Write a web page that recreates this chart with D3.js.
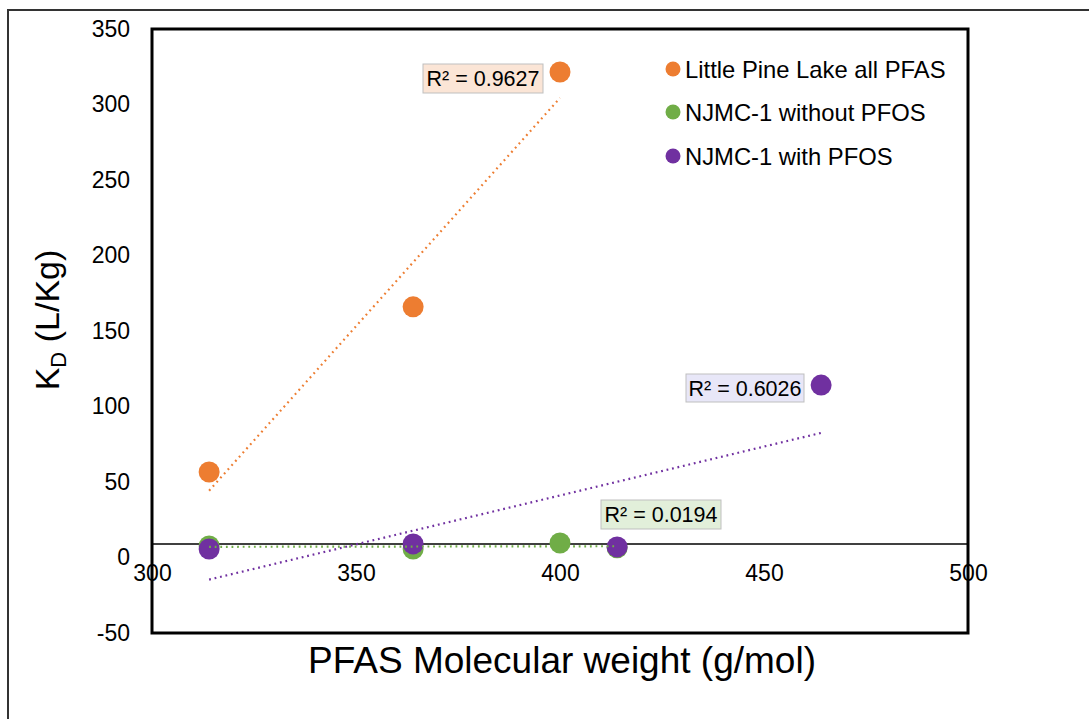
<!DOCTYPE html>
<html><head><meta charset="utf-8">
<script src="https://cdn.jsdelivr.net/npm/d3@7"></script>
<style>body{margin:0;background:#fff}svg{display:block}text{font-family:"Liberation Sans",Arial,sans-serif;fill:#000}</style>
</head><body><div id="chart"></div>
<script>
// ---- data ----
const seriesNames = ["Little Pine Lake all PFAS", "NJMC-1 without PFOS", "NJMC-1 with PFOS"];
const seriesColors = ["#ED7D31", "#70AD47", "#7030A0"];
const lplX = [314, 364, 400];
const lplY = [56.6, 166, 321.5];
const njWithoutX = [314, 364, 400, 414];
const njWithoutY = [7.6, 5.6, 9.6, 6.4];
const njWithX = [314, 364, 414, 464];
const njWithY = [5.6, 9.0, 7.0, 114.2];
const r2Labels = ["R² = 0.9627", "R² = 0.0194", "R² = 0.6026"];
const xTicks = [300, 350, 400, 450, 500];
const yTicks = [-50, 0, 50, 100, 150, 200, 250, 300, 350];
const refLineValue = 8.9;

const W = 1089, H = 719;
const svg = d3.select("#chart").append("svg").attr("width", W).attr("height", H);

// outer frame
svg.append("rect").attr("x", 8).attr("y", 10).attr("width", 1200).attr("height", 900)
  .attr("fill", "none").attr("stroke", "#333").attr("stroke-width", 2);

const plot = {left: 152, top: 29, right: 968, bottom: 633};
const x = d3.scaleLinear().domain([300, 500]).range([plot.left, plot.right]);
const y = d3.scaleLinear().domain([-50, 350]).range([plot.bottom, plot.top]);
const fmt = d => String(d);

// y tick labels
const yAxis = d3.axisLeft(y).tickValues(yTicks).tickFormat(fmt).tickSize(0).tickPadding(22);
const gy = svg.append("g").attr("transform", `translate(${plot.left},0)`).call(yAxis);
gy.select(".domain").remove();
gy.selectAll("text").attr("font-size", 23).attr("font-family", '"Liberation Sans",Arial,sans-serif').attr("fill", "#000");

// reference horizontal line
svg.append("line").attr("x1", plot.left).attr("x2", plot.right)
  .attr("y1", y(refLineValue)).attr("y2", y(refLineValue))
  .attr("stroke", "#000").attr("stroke-width", 1.5);

// x tick labels
const xAxis = d3.axisBottom(x).tickValues(xTicks).tickFormat(fmt).tickSize(0).tickPadding(0);
const gx = svg.append("g").attr("transform", `translate(0,${y(refLineValue) + 21})`).call(xAxis);
gx.select(".domain").remove();
gx.selectAll("text").attr("font-size", 23).attr("dy", "0.71em").attr("font-family", '"Liberation Sans",Arial,sans-serif').attr("fill", "#000");

// trendlines (least squares)
function fit(xs, ys) {
  const n = xs.length, mx = d3.mean(xs), my = d3.mean(ys);
  let sxy = 0, sxx = 0;
  for (let i = 0; i < n; i++) { sxy += (xs[i]-mx)*(ys[i]-my); sxx += (xs[i]-mx)**2; }
  const b = sxy / sxx, a = my - b*mx;
  const x0 = d3.min(xs), x1 = d3.max(xs);
  return [[x0, a + b*x0], [x1, a + b*x1]];
}
const series = [
  {xs: lplX, ys: lplY, c: seriesColors[0]},
  {xs: njWithoutX, ys: njWithoutY, c: seriesColors[1]},
  {xs: njWithX, ys: njWithY, c: seriesColors[2]}
];
const line = d3.line().x(d => x(d[0])).y(d => y(d[1]));

// points: draw green first, then purple, orange
const drawOrder = [1, 2, 0];
drawOrder.forEach(i => {
  const s = series[i];
  svg.append("g").selectAll("circle").data(s.xs.map((v, k) => [v, s.ys[k]])).join("circle")
    .attr("cx", d => x(d[0])).attr("cy", d => y(d[1])).attr("r", 10.5).attr("fill", s.c);
});
series.forEach(s => {
  svg.append("path").attr("d", line(fit(s.xs, s.ys))).attr("fill", "none")
    .attr("stroke", s.c).attr("stroke-width", 2.2).attr("stroke-dasharray", "1.8 3.8").attr("stroke-linecap", "butt");
});

// R² labels
const r2Boxes = [
  {x: 423, y: 64, w: 120, h: 29, fill: "#FBE5D6"},
  {x: 601, y: 500, w: 120, h: 29, fill: "#E2EFDA"},
  {x: 686, y: 374, w: 118, h: 28, fill: "#E8E7F8"}
];
r2Boxes.forEach((b, i) => {
  svg.append("rect").attr("x", b.x).attr("y", b.y).attr("width", b.w).attr("height", b.h)
    .attr("fill", b.fill).attr("stroke", "#BFBFBF").attr("stroke-width", 1);
  svg.append("text").attr("x", b.x + b.w/2).attr("y", b.y + b.h/2).attr("dy", "0.36em")
    .attr("text-anchor", "middle").attr("font-size", 21.5).text(r2Labels[i]);
});

// plot frame
svg.append("rect").attr("x", plot.left).attr("y", plot.top)
  .attr("width", plot.right - plot.left).attr("height", plot.bottom - plot.top)
  .attr("fill", "none").attr("stroke", "#000").attr("stroke-width", 3);

// legend
const legY = [69, 112, 156];
seriesNames.forEach((n, i) => {
  svg.append("circle").attr("cx", 673).attr("cy", legY[i]).attr("r", 7.5).attr("fill", seriesColors[i]);
  svg.append("text").attr("x", 685).attr("y", legY[i]).attr("dy", "0.36em").attr("font-size", 23.8).text(n);
});

// axis titles
svg.append("text").attr("x", 562).attr("y", 660).attr("dy", "0.36em").attr("text-anchor", "middle")
  .attr("font-size", 37).text("PFAS Molecular weight (g/mol)");
const yt = svg.append("text").attr("transform", "translate(47,320) rotate(-90)")
  .attr("text-anchor", "middle").attr("dy", "0.36em").attr("font-size", 34);
yt.append("tspan").text("K");
yt.append("tspan").attr("font-size", 22).attr("dy", "0.3em").text("D");
yt.append("tspan").attr("dy", "-0.2em").text(" (L/Kg)");
</script></body></html>
